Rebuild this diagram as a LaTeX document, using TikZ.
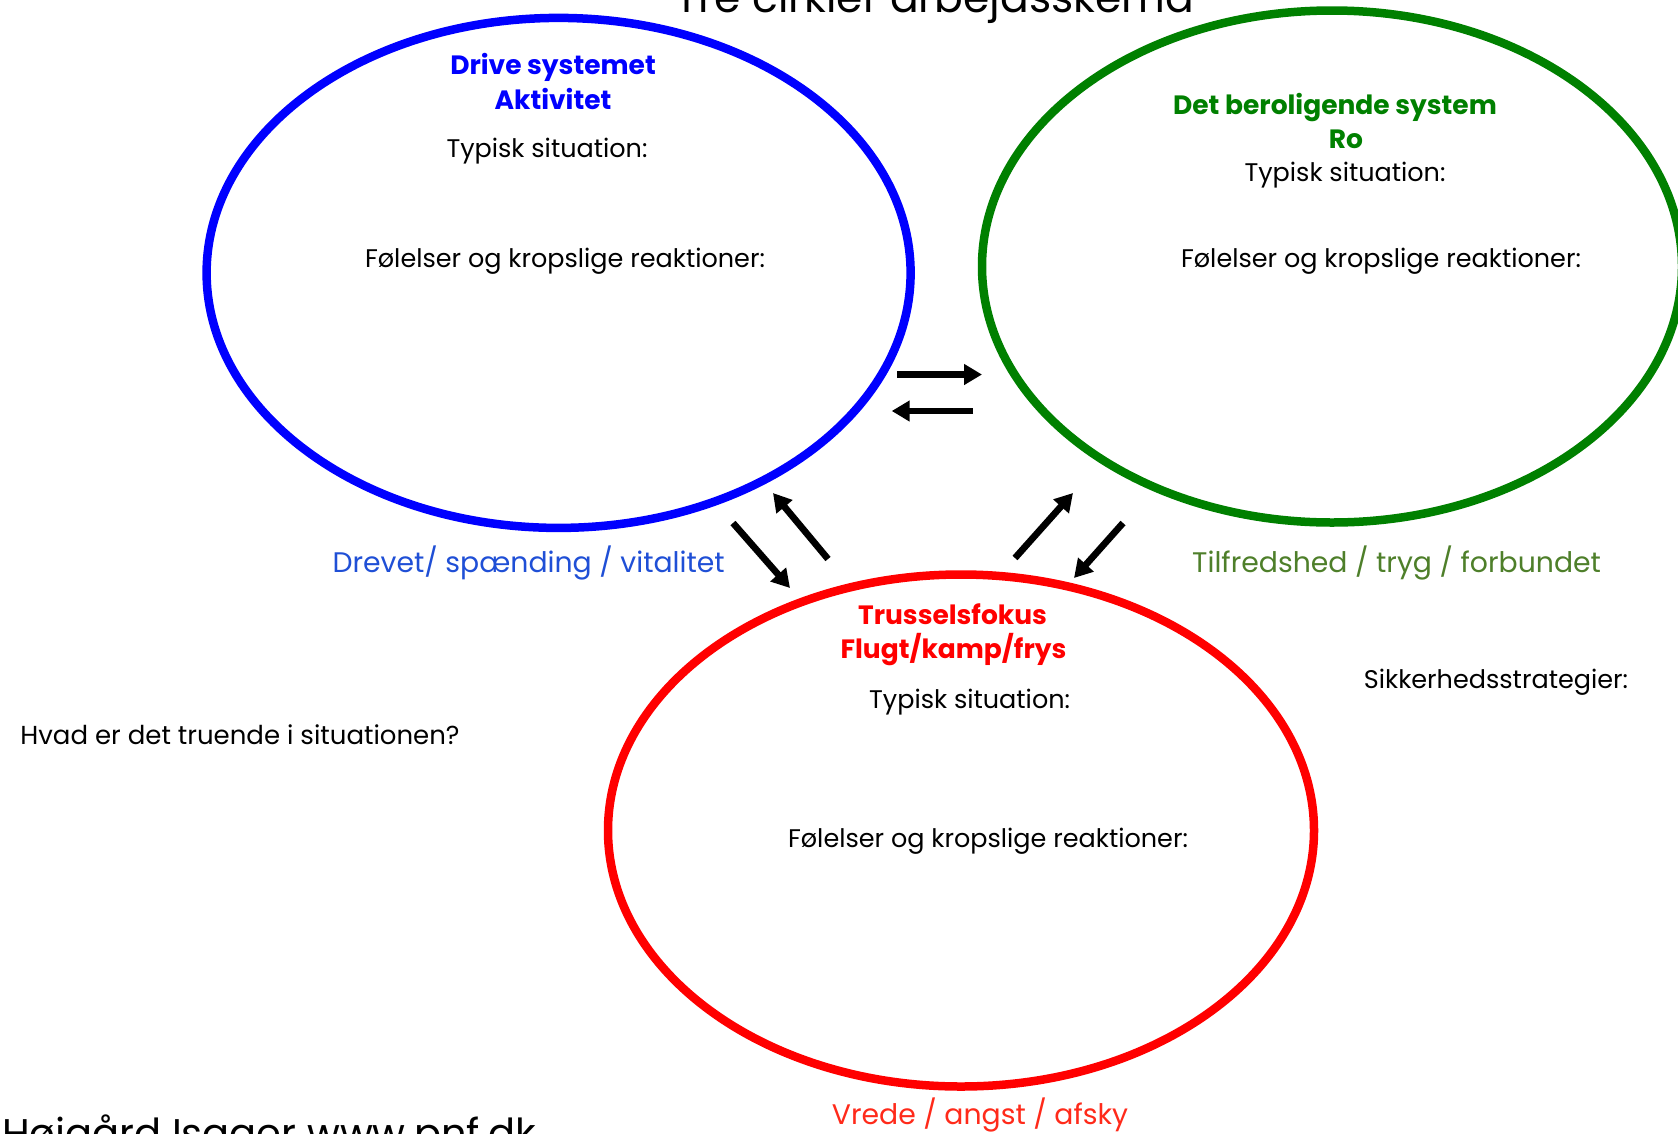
\documentclass[tikz,border=0pt]{standalone}
\usepackage{fontspec}
\setmainfont{Poppins}
\usetikzlibrary{arrows.meta,shapes.geometric}
\definecolor{drive}{HTML}{0000FF}
\definecolor{calm}{HTML}{008000}
\definecolor{threat}{HTML}{FF0000}
\definecolor{drivetxt}{HTML}{1F4FD6}
\definecolor{calmtxt}{HTML}{4E7F2A}
\definecolor{threattxt}{HTML}{FF2A1A}

\begin{document}
\begin{tikzpicture}[x=1pt,y=-1pt,
  ring/.style={draw=#1,line width=8.5pt,ellipse,inner sep=0pt},
  head/.style={font=\fontsize{26.5}{30}\selectfont\bfseries,text=#1,anchor=mid,inner sep=0pt},
  body/.style={font=\fontsize{25.5}{30}\selectfont,anchor=mid,inner sep=0pt},
  mood/.style={font=\fontsize{28.3}{33}\selectfont,text=#1,anchor=mid,inner sep=0pt},
  flow/.style={line width=6.7pt,-{Triangle[length=18pt 0,width=20pt 0]}}]
  \useasboundingbox (0,0) rectangle (1678,1133);
  \fill[white] (0,0) rectangle (1678,1133);
  % title and source, both cut by the page edge
  \node[font=\fontsize{42.5}{48}\selectfont,anchor=base,inner sep=0pt] (title) at (935,12) {Tre cirkler arbejdsskema};
  \node[font=\fontsize{40}{46}\selectfont,anchor=base west,inner sep=0pt] (source) at (2,1147) {Højgård Isager www.pnf.dk};
  % the three systems
  \node[ring=drive,minimum width=704pt,minimum height=510pt] (drivering) at (558.6,272.9) {};
  \node[ring=calm,minimum width=700pt,minimum height=512pt] (calmring) at (1332,266.5) {};
  \node[ring=threat,minimum width=706pt,minimum height=512pt] (threatring) at (961,830.5) {};
  % drive
  \node[head=drive] (drivename) at (553,72) {Drive systemet};
  \node[head=drive] (drivesub) at (553,107) {Aktivitet};
  \node[body] (drivesit) at (547,155) {Typisk situation:};
  \node[body] (drivefeel) at (565,265) {Følelser og kropslige reaktioner:};
  \node[mood=drivetxt] (drivemood) at (528.7,570) {Drevet/ spænding / vitalitet};
  % calm
  \node[head=calm] (calmname) at (1335,112) {Det beroligende system};
  \node[head=calm] (calmsub) at (1346,146) {Ro};
  \node[body] (calmsit) at (1345,179) {Typisk situation:};
  \node[body] (calmfeel) at (1381,265) {Følelser og kropslige reaktioner:};
  \node[mood=calmtxt] (calmmood) at (1396.6,570) {Tilfredshed / tryg / forbundet};
  % threat
  \node[head=threat] (threatname) at (952.5,622) {Trusselsfokus};
  \node[head=threat] (threatsub) at (953.5,655.5) {Flugt/kamp/frys};
  \node[body] (threatsit) at (969.6,706) {Typisk situation:};
  \node[body] (threatfeel) at (988,845) {Følelser og kropslige reaktioner:};
  \node[mood=threattxt] (threatmood) at (980,1122) {Vrede / angst / afsky};
  % side questions
  \node[body] (safety) at (1496,685.5) {Sikkerhedsstrategier:};
  \node[font=\fontsize{26}{30}\selectfont,anchor=mid,inner sep=0pt] (danger) at (240,742) {Hvad er det truende i situationen?};
  % arrows between the systems
  \coordinate (dc-s) at (897,374.5);  \coordinate (dc-e) at (982,374.5);
  \coordinate (cd-s) at (973,411);    \coordinate (cd-e) at (891.7,411);
  \coordinate (dt-s) at (733,523);    \coordinate (dt-e) at (790,588);
  \coordinate (td-s) at (828,559);    \coordinate (td-e) at (773,493);
  \coordinate (tc-s) at (1015,558);   \coordinate (tc-e) at (1073,493);
  \coordinate (ct-s) at (1123,523);   \coordinate (ct-e) at (1074,578);
  \foreach \a in {dc,cd,dt,td,tc,ct}
    \draw[flow] (\a-s) -- (\a-e);
\end{tikzpicture}
\end{document}
